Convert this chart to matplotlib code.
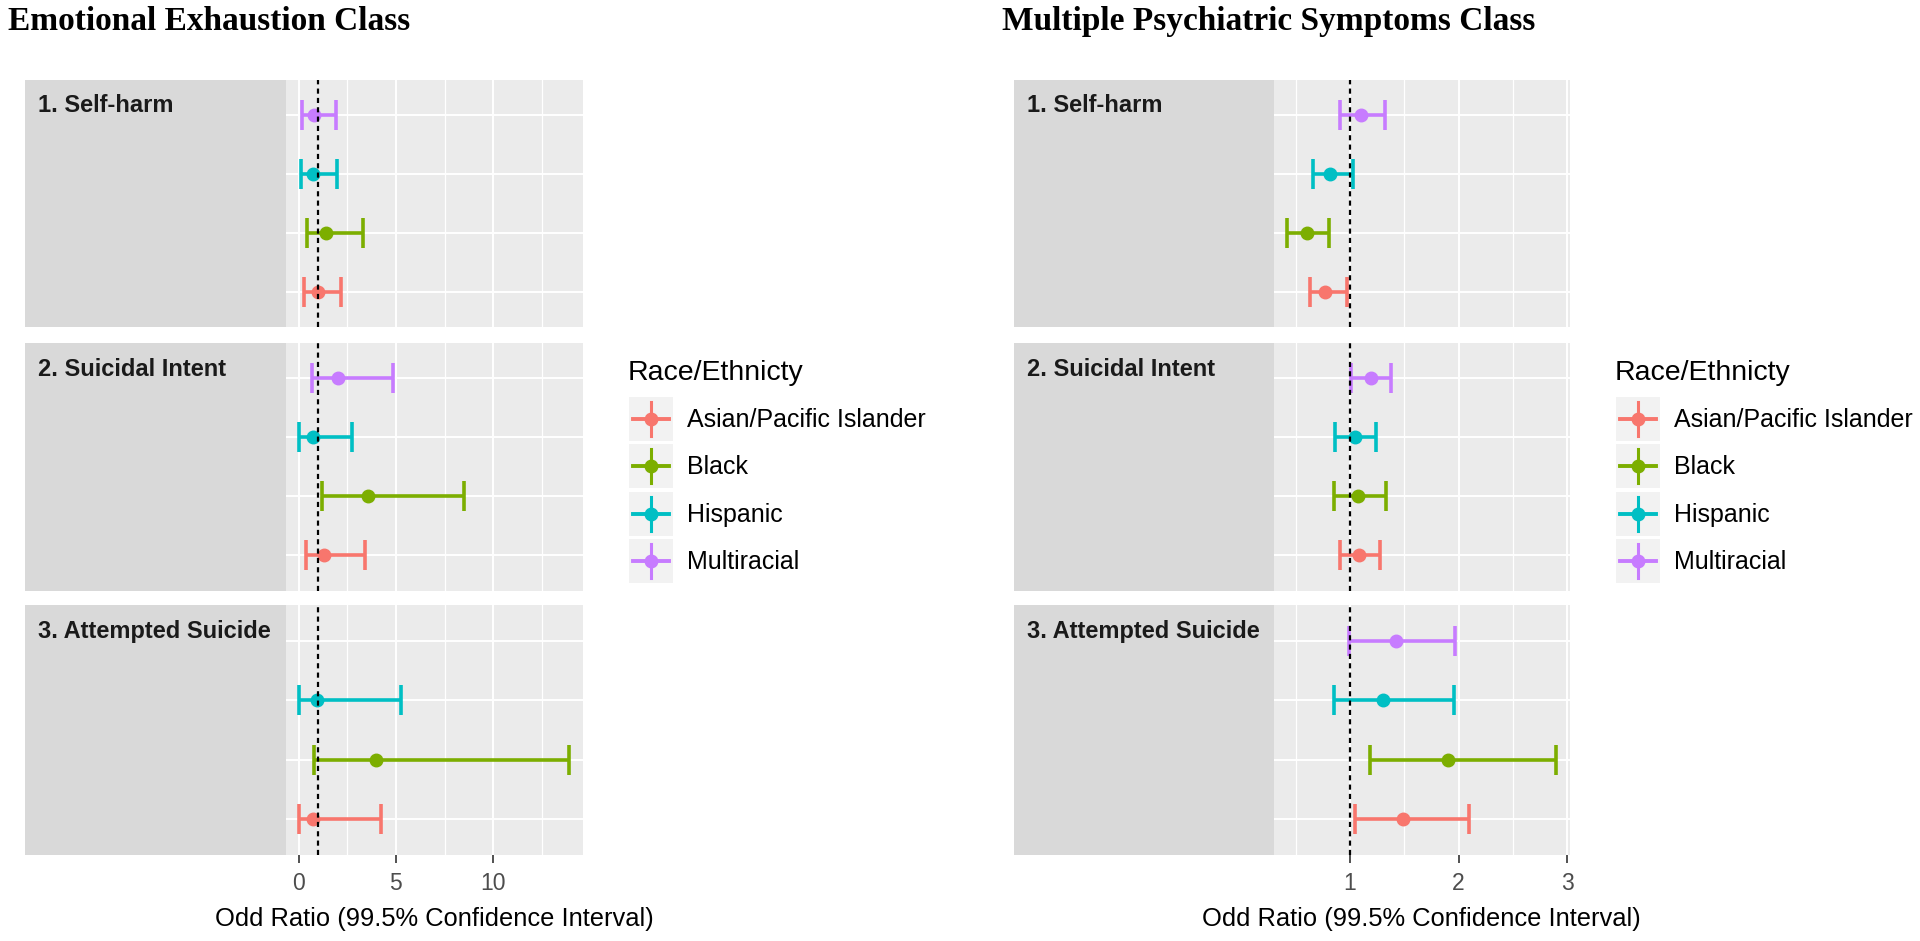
import numpy as np
import matplotlib.pyplot as plt
from matplotlib.patches import Rectangle
from matplotlib.lines import Line2D

# categories (bottom to top within each facet)
races = ['Asian/Pacific Islander', 'Black', 'Hispanic', 'Multiracial']
race_colors = ['#F8766D', '#7CAE00', '#00BFC4', '#C77CFF']
outcomes = ['1. Self-harm', '2. Suicidal Intent', '3. Attempted Suicide']

# Emotional Exhaustion Class: odds ratio, lower, upper (rows = outcomes, cols = races)
ee_or = [[0.99, 1.40, 0.75, 0.79],
         [1.30, 3.59, 0.75, 2.00],
         [0.75, 4.00, 0.97, np.nan]]
ee_lo = [[0.30, 0.45, 0.10, 0.16],
         [0.36, 1.18, 0.04, 0.67],
         [0.04, 0.79, 0.02, np.nan]]
ee_hi = [[2.17, 3.30, 1.97, 1.90],
         [3.39, 8.48, 2.76, 4.83],
         [4.24, 13.90, 5.27, np.nan]]

# Multiple Psychiatric Symptoms Class
mps_or = [[0.77, 0.60, 0.82, 1.10],
          [1.08, 1.07, 1.05, 1.19],
          [1.49, 1.90, 1.30, 1.42]]
mps_lo = [[0.63, 0.42, 0.66, 0.91],
          [0.91, 0.85, 0.86, 1.01],
          [1.05, 1.18, 0.85, 0.99]]
mps_hi = [[0.97, 0.81, 1.03, 1.32],
          [1.28, 1.33, 1.24, 1.38],
          [2.10, 2.90, 1.96, 1.97]]

ee_ticks = [0, 5, 10]
ee_minor = [2.5, 7.5, 12.5]
mps_ticks = [1, 2, 3]
mps_minor = [0.5, 1.5, 2.5]

SANS = 'Liberation Sans'
SERIF = 'Liberation Serif'
W, H = 1920, 941
fig = plt.figure(figsize=(19.2, 9.41), dpi=100)


def px_axes(x0, y0, x1, y1):
    # axes from pixel box (top-left origin)
    return fig.add_axes([x0 / W, 1 - y1 / H, (x1 - x0) / W, (y1 - y0) / H])


def px_text(x, y, s, **kw):
    fig.text(x / W, 1 - y / H, s, **kw)


rows_px = [(79.5, 327), (343, 590.5), (605, 855)]


def draw_class(title, title_x, strip_x0, panel_x0, panel_x1, ors, los, his, ticks, minor):
    px_text(title_x, 30, title, family=SERIF, fontweight='bold', fontsize=24, va='baseline')
    los_a = np.array(los, dtype=float)
    his_a = np.array(his, dtype=float)
    lo_min, hi_max = np.nanmin(los_a), np.nanmax(his_a)
    pad = 0.05 * (hi_max - lo_min)
    xlim = (lo_min - pad, hi_max + pad)
    ypos = np.arange(1, len(races) + 1)

    for k, (top, bot) in enumerate(rows_px):
        # strip on the left, label at its top-left corner
        sax = px_axes(strip_x0, top, panel_x0, bot)
        sax.set_facecolor('#d9d9d9')
        sax.set_xticks([]); sax.set_yticks([])
        for s in sax.spines.values():
            s.set_visible(False)
        px_text(strip_x0 + 13, top + 33, outcomes[k], family=SANS, fontweight='bold',
                fontsize=17, color='#1a1a1a', va='baseline')

        ax = px_axes(panel_x0, top, panel_x1, bot)
        ax.set_facecolor('#ebebeb')
        for s in ax.spines.values():
            s.set_visible(False)
        ax.set_xlim(xlim)
        ax.set_ylim(0.4, len(races) + 0.6)
        ax.set_yticks(ypos)
        ax.set_yticklabels([])
        ax.set_xticks(ticks)
        ax.set_xticks(minor, minor=True)
        ax.tick_params(axis='y', length=0)
        ax.tick_params(axis='x', which='minor', length=0)
        ax.grid(True, which='major', color='white', lw=1.4)
        ax.grid(True, which='minor', axis='x', color='white', lw=0.9)
        ax.set_axisbelow(True)

        for j in range(len(races)):
            o, lo, hi = ors[k][j], los[k][j], his[k][j]
            if np.isnan(o):
                continue
            ax.errorbar([o], [ypos[j]], xerr=[[o - lo], [hi - o]], fmt='o',
                        color=race_colors[j], ms=9, elinewidth=2.6,
                        capsize=10.7, capthick=2.6, zorder=2.5)
        ax.axvline(1, color='black', lw=1.6, ls=(0, (2.3, 1.9)), zorder=3)

        if k == len(rows_px) - 1:
            ax.tick_params(axis='x', which='major', length=5.5, width=1.2,
                           color='#333333', labelcolor='#4d4d4d',
                           labelsize=16.5, pad=7)
            for lab in ax.get_xticklabels():
                lab.set_family(SANS)
        else:
            ax.tick_params(axis='x', which='major', length=0, labelbottom=False)

    px_text((panel_x0 + panel_x1) / 2, 919, 'Odd Ratio (99.5% Confidence Interval)',
            family=SANS, fontsize=18.4, ha='center', va='center')


def draw_legend(x0):
    px_text(x0 - 1, 380, 'Race/Ethnicty', family=SANS, fontsize=20.5, va='baseline')
    lax = px_axes(x0, 390, x0 + 300, 590)
    lax.set_xlim(0, 300)
    lax.set_ylim(200, 0)
    lax.axis('off')
    for i, (name, col) in enumerate(zip(races, race_colors)):
        t = 7 + i * 47.3
        cy = t + 22
        lax.add_patch(Rectangle((0, t), 44, 44, facecolor='#f2f2f2', edgecolor='none'))
        lax.add_line(Line2D([4, 40], [cy, cy], color=col, lw=2.8))
        lax.add_line(Line2D([22, 22], [t + 5, t + 39], color=col, lw=2.2))
        lax.plot([22], [cy], 'o', color=col, ms=9)
        lax.text(58, cy + 1, name, family=SANS, fontsize=18, va='center')


draw_class('Emotional Exhaustion Class', 7.7, 25, 285.5, 582.5,
           ee_or, ee_lo, ee_hi, ee_ticks, ee_minor)
draw_legend(629)
draw_class('Multiple Psychiatric Symptoms Class', 1001.7, 1014, 1273.6, 1569.8,
           mps_or, mps_lo, mps_hi, mps_ticks, mps_minor)
draw_legend(1616)

fig.savefig('out.png', dpi=100)
